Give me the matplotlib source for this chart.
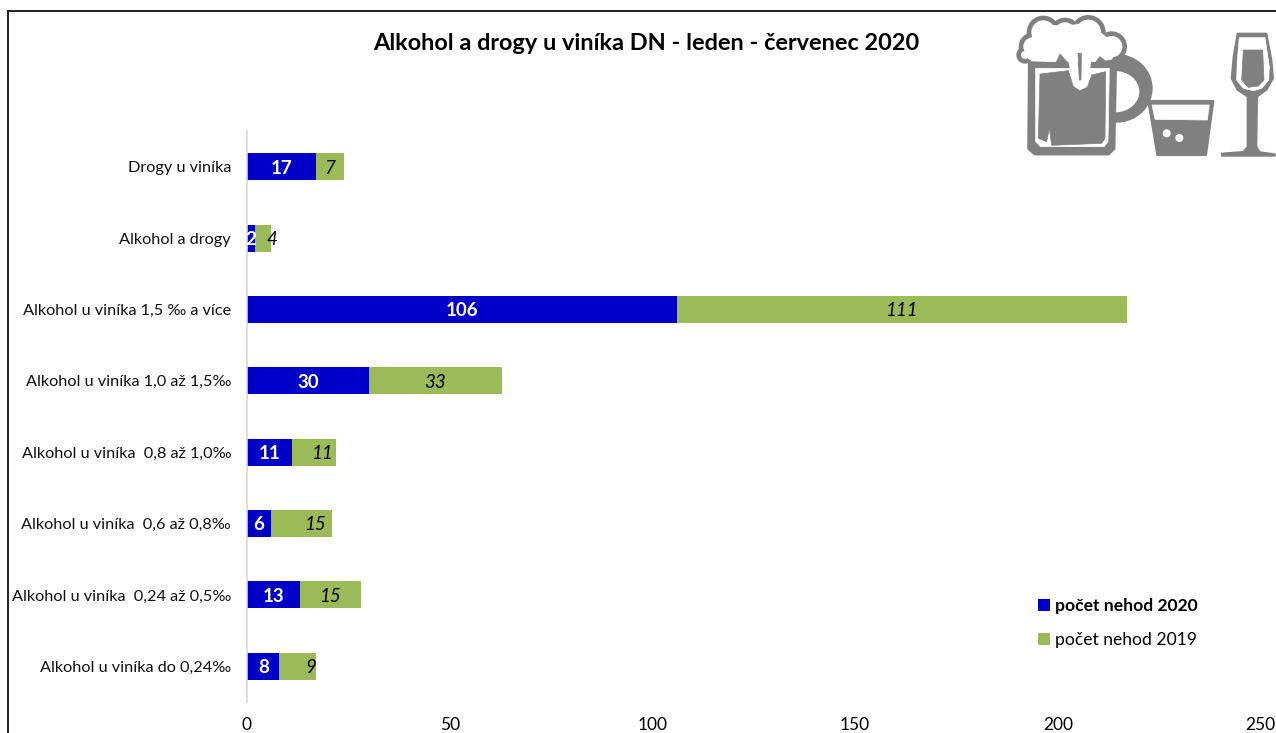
import matplotlib
matplotlib.use("Agg")
import matplotlib.pyplot as plt
from matplotlib.patches import Polygon, Circle, Ellipse

plt.rcParams['font.family'] = ['Lato', 'DejaVu Sans']

categories = ["Alkohol u viníka do 0,24‰", "Alkohol u viníka  0,24 až 0,5‰", "Alkohol u viníka  0,6 až 0,8‰",
              "Alkohol u viníka  0,8 až 1,0‰", "Alkohol u viníka 1,0 až 1,5‰", "Alkohol u viníka 1,5 ‰ a více",
              "Alkohol a drogy", "Drogy u viníka"]
nehody_2020 = [8, 13, 6, 11, 30, 106, 2, 17]
nehody_2019 = [9, 15, 15, 11, 33, 111, 4, 7]
# popisky 2019 nejsou v originale presne na stredu
posun_2019 = [3.2, 0, 3.2, 2, 0, 0, 2.2, 0]
x_ticks = [0, 50, 100, 150, 200, 250]

W, H = 1276, 733
BLUE = "#0000c8"
GREEN = "#9bbb59"
GRAY = "#808080"

fig = plt.figure(figsize=(W / 100, H / 100), dpi=100)
ax = fig.add_axes([247 / W, 1 - 702 / H, (1260.5 - 247) / W, (702 - 131) / H])

y = list(range(len(categories)))
ax.barh(y, nehody_2020, height=0.38, color=BLUE, label="počet nehod 2020")
ax.barh(y, nehody_2019, height=0.38, left=nehody_2020, color=GREEN, label="počet nehod 2019")

for i in y:
    ax.text(nehody_2020[i] / 2, i - 0.02, str(nehody_2020[i]), color="white", fontsize=13.5, fontweight="bold",
            ha="center", va="center")
    ax.text(nehody_2020[i] + nehody_2019[i] / 2 + posun_2019[i], i - 0.02, str(nehody_2019[i]), color="black",
            fontsize=13.5, fontstyle="italic", ha="center", va="center")

ax.set_xlim(0, 250)
ax.set_ylim(-0.5, len(categories) - 0.5)
ax.set_xticks(x_ticks)
ax.set_yticks(y)
ax.set_yticklabels(categories, fontsize=11.7, color="#111111")
ax.tick_params(axis="both", length=0)
ax.tick_params(axis="y", pad=11.5)
ax.tick_params(axis="x", pad=11, labelsize=12.5)
for s in ["top", "right", "bottom"]:
    ax.spines[s].set_visible(False)
ax.spines["left"].set_color("#d9d9d9")
ax.spines["left"].set_linewidth(1.2)

leg = ax.legend(loc="lower right", bbox_to_anchor=(960 / 1014, 0.079), frameon=False, fontsize=12.6,
                handlelength=0.66, handleheight=0.66, handletextpad=0.3, labelspacing=1.05, borderpad=0)
leg.get_texts()[0].set_fontweight("bold")

# overlay v pixelech: ramecek, titulek, obrazky
ov = fig.add_axes([0, 0, 1, 1], zorder=5)
ov.set_xlim(0, W)
ov.set_ylim(H, 0)
ov.axis("off")
ov.plot([8, 8], [11, H], color="#222222", lw=1.4)
ov.plot([8, W], [11, 11], color="#222222", lw=1.4)
ov.text(646, 43, "Alkohol a drogy u viníka DN - leden - červenec 2020", fontsize=16.9, fontweight="bold",
        ha="center", va="center", color="black")


def z(pts):
    # souradnice ze zoomu ikony (3x, od x=1000)
    return [(1000 + a / 3, b / 3) for a, b in pts]


def poly(pts, color, lw=0.5):
    ov.add_patch(Polygon(z(pts), closed=True, facecolor=color, edgecolor=color, lw=lw, joinstyle="round"))


def circ(a, b, r, color):
    ov.add_patch(Circle((1000 + a / 3, b / 3), r / 3, facecolor=color, edgecolor="none"))


def elip(a, b, rx, ry, color):
    ov.add_patch(Ellipse((1000 + a / 3, b / 3), 2 * rx / 3, 2 * ry / 3, facecolor=color, edgecolor="none"))


# drzadlo
elip(350, 265, 108, 103, GRAY)
elip(345, 275, 73, 62, "white")
# korpus
poly([(90, 190), (345, 190), (340, 445), (325, 460), (105, 460), (88, 445)], GRAY, lw=3)
poly([(107, 205), (328, 205), (324, 425), (312, 440), (122, 440), (107, 425)], "white")
poly([(120, 222), (205, 212), (220, 260), (240, 272), (262, 262), (275, 225), (317, 215), (315, 415),
      (305, 430), (155, 436), (148, 385), (140, 425), (115, 415)], GRAY)
# pena
pena = [(130, 97, 48), (195, 100, 45), (265, 97, 50), (335, 140, 44), (98, 140, 40), (75, 165, 24),
        (150, 155, 42), (220, 155, 42), (290, 155, 42)]
for a, b, r in pena:
    circ(a, b, r + 2, GRAY)
for a, b, r in pena:
    circ(a, b, r - 12, "white")
poly([(90, 120), (130, 75), (195, 78), (265, 70), (320, 112), (350, 145), (335, 178), (290, 185), (220, 185),
      (150, 185), (95, 182), (70, 165)], "white")
poly([(205, 182), (230, 155), (238, 250), (246, 165), (272, 188), (262, 250), (240, 268), (222, 250)], "white")
poly([(165, 195), (180, 162), (205, 190)], GRAY)
poly([(280, 195), (300, 170), (325, 190)], GRAY)
poly([(234, 160), (244, 160), (243, 240), (238, 240)], GRAY)
# sklenicka
poly([(445, 303), (640, 303), (618, 465), (472, 465)], GRAY, lw=1.5)
poly([(456, 315), (628, 315), (622, 360), (465, 358)], "white")
circ(500, 400, 12, "white")
circ(538, 414, 12, "white")
# vinovy pohar
poly([(712, 100), (800, 100), (815, 180), (820, 235), (800, 270), (772, 290), (770, 440), (780, 456), (825, 462),
      (825, 468), (665, 468), (665, 460), (730, 455), (742, 440), (742, 290), (712, 270), (694, 235), (700, 170)],
     GRAY, lw=1)
poly([(718, 113), (795, 113), (808, 200), (806, 240), (785, 265), (760, 272), (730, 265), (710, 240), (712, 180)],
     "white")
poly([(730, 150), (788, 150), (792, 240), (775, 258), (745, 262), (725, 240)], GRAY)

fig.savefig("out.png", dpi=100)
